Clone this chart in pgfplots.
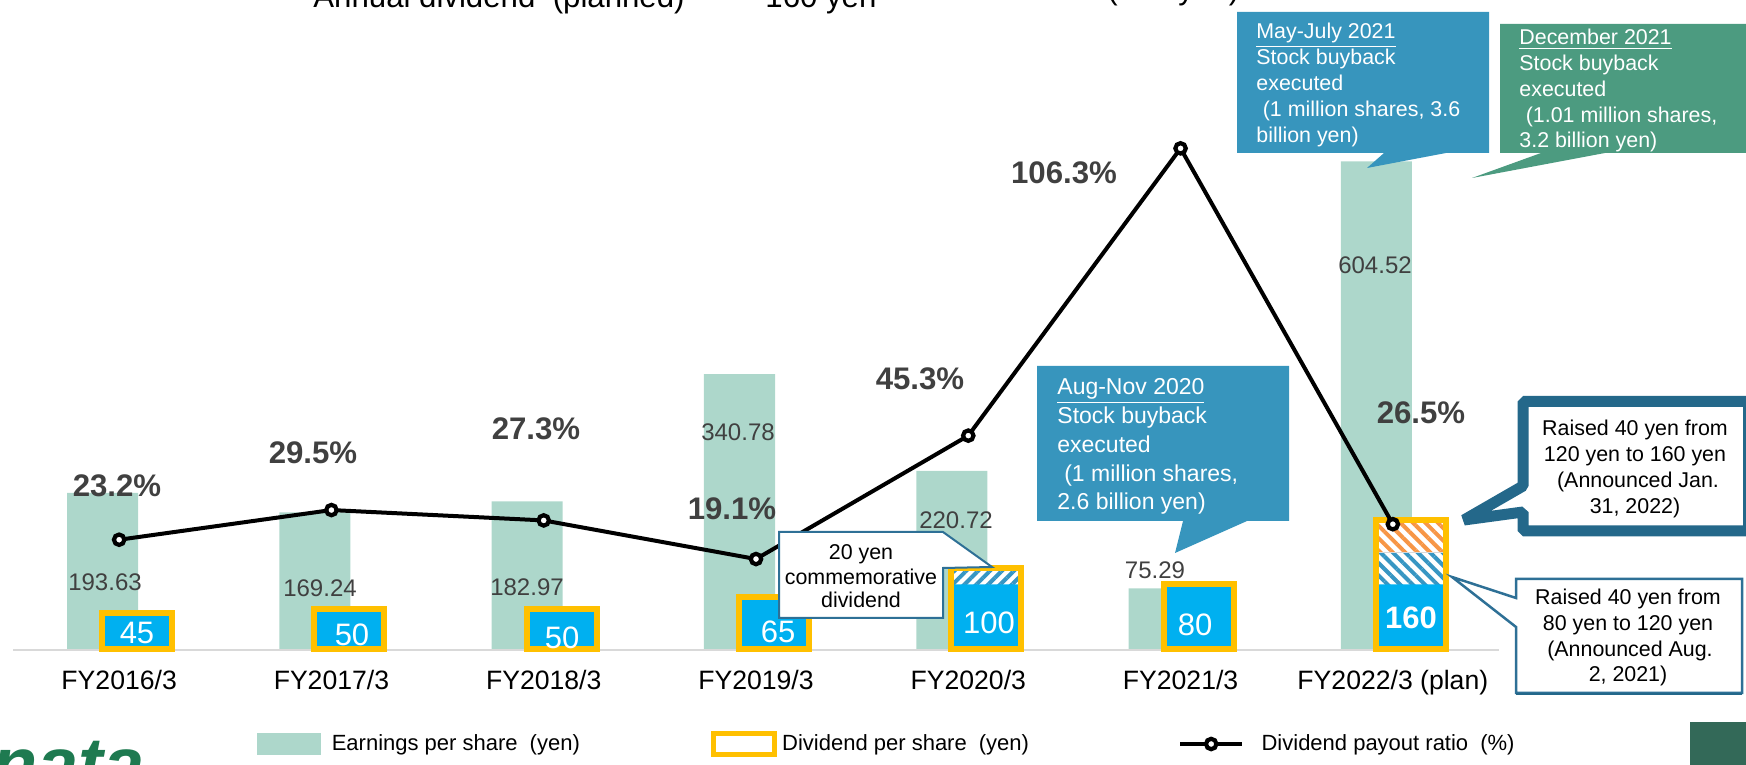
\documentclass[border=0pt]{standalone}
\usepackage{fontspec}
\setmainfont{Liberation Sans}
\usepackage{pgfplots}
\pgfplotsset{compat=1.18}
\usetikzlibrary{patterns.meta}
\definecolor{epsgreen}{RGB}{173,215,203}
\definecolor{divblue}{RGB}{0,176,240}
\definecolor{gold}{RGB}{255,192,0}
\definecolor{hatchblue}{RGB}{55,150,195}
\definecolor{hatchorange}{RGB}{247,150,70}
\definecolor{callblue}{RGB}{55,149,189}
\definecolor{callgreen}{RGB}{76,155,128}
\definecolor{darkteal}{RGB}{36,104,138}
\definecolor{thinteal}{RGB}{46,112,150}
\definecolor{txtgray}{RGB}{64,64,64}
\definecolor{logogreen}{RGB}{30,122,80}
\definecolor{darkgreen}{RGB}{51,105,88}
\definecolor{basegray}{RGB}{217,217,217}
\newcommand\fs[2]{\fontsize{#1pt}{#2pt}\selectfont}
\begin{document}
\begin{tikzpicture}
\useasboundingbox (0,0) rectangle (873pt,382.5pt);
\clip (0,0) rectangle (873pt,382.5pt);
\begin{scope}[x=0.5pt,y=-0.5pt,shift={(0pt,382.5pt)}]
  \draw[basegray, line width=1pt] (13,650.5) -- (1499,650.5);
\end{scope}
\begin{axis}[
  at={(6.5pt,58pt)}, anchor=south west, scale only axis,
  width=743pt, height=324.5pt,
  xmin=-0.5, xmax=6.5, ymin=0, ymax=804.5, clip=false,
  axis line style={draw=none}, ytick=\empty, xtick={0,...,6},
  xticklabels={FY2016/3,FY2017/3,FY2018/3,FY2019/3,FY2020/3,FY2021/3,FY2022/3 (plan)},
  major tick length=0pt,
  xticklabel style={font=\fs{13.3}{16}, anchor=base, yshift=-20.5pt, inner sep=0pt},
  legend columns=3, legend cell align=left,
  legend style={at={(0.1642,-0.1464)}, anchor=west, draw=none, fill=none,
    inner sep=0pt, outer sep=0pt, /tikz/column sep=0pt,
    nodes={inner sep=0pt, outer sep=0pt, font=\fs{11}{13}, text=black}},
]
\addlegendimage{legend image code/.code={\fill[epsgreen] (0pt,-5.25pt) rectangle (31.5pt,5.25pt); \path (37pt,0pt);}}
\addlegendentry{\makebox[189.5pt][l]{Earnings per share\hspace{0.55em}(yen)}}
\addlegendimage{legend image code/.code={\draw[gold, line width=2.5pt, fill=white] (1.25pt,-5.25pt) rectangle (31.75pt,5.25pt); \path (35.5pt,0pt);}}
\addlegendentry{\makebox[198pt][l]{Dividend per share\hspace{0.55em}(yen)}}
\addlegendimage{legend image code/.code={\draw[black, line width=2pt] (0pt,0pt) -- (31pt,0pt); \draw[black, line width=2.1pt, fill=white] (15.5pt,0pt) circle (2.6pt); \path (40.5pt,0pt);}}
\addlegendentry{\makebox[140pt][l]{Dividend payout ratio\hspace{0.55em}(\%)}}
% EPS
\addplot[ybar, bar width=35.5pt, bar shift=-8.25pt, fill=epsgreen, draw=none, forget plot]
  coordinates {(0,193.63) (1,169.24) (2,182.97) (3,340.78) (4,220.72) (5,75.29) (6,604.52)};
% hatched parts of dividend
\addplot[ybar, bar width=35pt, bar shift=9pt, fill=white, draw=none, forget plot,
  postaction={pattern={Lines[angle=-45,distance=4.4pt,line width=2pt]}, pattern color=hatchorange}]
  coordinates {(6,160)};
\addplot[ybar, bar width=35pt, bar shift=9pt, fill=white, draw=none, forget plot,
  postaction={pattern={Lines[angle=45,distance=4.2pt,line width=2pt]}, pattern color=hatchblue}]
  coordinates {(4,100)};
\addplot[ybar, bar width=35pt, bar shift=9pt, fill=white, draw=basegray, line width=0.6pt, forget plot,
  postaction={pattern={Lines[angle=-45,distance=4.4pt,line width=2pt]}, pattern color=hatchblue}]
  coordinates {(6,120)};
% solid dividend
\addplot[ybar, bar width=35pt, bar shift=9pt, fill=divblue, draw=none, forget plot]
  coordinates {(0,45) (1,50) (2,50) (3,65) (4,80) (5,80) (6,80)};
% outline
\addplot[ybar, bar width=35pt, bar shift=9pt, fill=none, draw=gold, line width=3pt, forget plot]
  coordinates {(0,45) (1,50) (2,50) (3,65) (4,100) (5,80) (6,160)};
\end{axis}
\begin{axis}[
  at={(6.5pt,58pt)}, anchor=south west, scale only axis,
  width=743pt, height=324.5pt,
  xmin=-0.5, xmax=6.5, ymin=0, ymax=137.8, clip=false, hide axis,
]
\addplot[black, line width=2pt, mark=*, mark size=2.6pt,
  mark options={fill=white, draw=black, line width=2.1pt}]
  coordinates {(0,23.2) (1,29.5) (2,27.3) (3,19.1) (4,45.3) (5,106.3) (6,26.5)};
\end{axis}
\begin{scope}[x=0.5pt,y=-0.5pt,shift={(0pt,382.5pt)}]
  % percent labels
  \begin{scope}[every node/.style={inner sep=0pt, font=\bfseries\fs{15.6}{18}, text=txtgray}]
    \node at (117,486) {23.2\%};
    \node at (313,453) {29.5\%};
    \node at (536,429) {27.3\%};
    \node at (732,509) {19.1\%};
    \node at (920,379) {45.3\%};
    \node at (1064,173) {106.3\%};
    \node at (1421,413) {26.5\%};
  \end{scope}
  % EPS labels
  \begin{scope}[every node/.style={inner sep=0pt, font=\fs{12}{14}, text=txtgray}]
    \node at (105,582) {193.63};
    \node at (320,588) {169.24};
    \node at (527,587) {182.97};
    \node at (738,432) {340.78};
    \node at (956,520) {220.72};
    \node at (1155,570) {75.29};
    \node at (1375,265) {604.52};
  \end{scope}
  % dividend labels
  \begin{scope}[every node/.style={inner sep=0pt, font=\fs{15.5}{18}, text=white}]
    \node at (137,633) {45};
    \node at (352,635) {50};
    \node at (562,638) {50};
    \node at (778,632) {65};
    \node at (989,623) {100};
    \node at (1195,625) {80};
    \node[font=\bfseries\fs{15.5}{18}] at (1411,618) {160};
  \end{scope}
  % callouts
  \fill[callblue] (1037,366) -- (1289,366) -- (1289,521) -- (1247,521) -- (1175,553) -- (1183,521) -- (1037,521) -- cycle;
  \fill[callblue] (1237,12) -- (1489,12) -- (1489,153) -- (1446,153) -- (1367,168) -- (1384,153) -- (1237,153) -- cycle;
  \fill[callgreen] (1500,24) -- (1752,24) -- (1752,153) -- (1605,153) -- (1472,178) -- (1541,153) -- (1500,153) -- cycle;
  \draw[darkteal, line width=5.5pt, fill=white, line join=bevel] (1523,401.5) -- (1748.5,401.5) -- (1748.5,531) -- (1523,531) -- (1523,512) -- (1464,520) -- (1523,486) -- cycle;
  \draw[thinteal, line width=1.25pt, fill=white] (1516,579) -- (1742,579) -- (1742,693) -- (1516,693) -- (1516,627) -- (1452,577) -- (1516,598) -- cycle;
  \draw[darkteal, line width=1pt] (1516,694.5) -- (1742,694.5);
  \draw[thinteal, line width=1pt, fill=white] (779,532) -- (943,532) -- (992,567) -- (943,568) -- (943,618) -- (779,618) -- cycle;
  \begin{scope}[every node/.style={inner sep=0pt, anchor=base west, font=\fs{11.5}{14}, text=white}]
    \node at (1057,395) {\underline{Aug-Nov 2020}};
    \node at (1057,424) {Stock buyback};
    \node at (1057,453) {executed};
    \node at (1057,482) {\hspace*{0.3em}(1 million shares,};
    \node at (1057,510) {2.6 billion yen)};
  \end{scope}
  \begin{scope}[every node/.style={inner sep=0pt, anchor=base west, font=\fs{10.7}{13}, text=white}]
    \node at (1256,39) {\underline{May-July 2021}};
    \node at (1256,65) {Stock buyback};
    \node at (1256,91) {executed};
    \node at (1256,117) {\hspace*{0.3em}(1 million shares, 3.6};
    \node at (1256,143) {billion yen)};
    \node at (1519,45) {\underline{December 2021}};
    \node at (1519,71) {Stock buyback};
    \node at (1519,97) {executed};
    \node at (1519,123) {\hspace*{0.3em}(1.01 million shares,};
    \node at (1519,148) {3.2 billion yen)};
  \end{scope}
  \begin{scope}[every node/.style={inner sep=0pt, anchor=base, font=\fs{10.7}{13}, text=black}]
    \node at (1635,436) {Raised 40 yen from};
    \node at (1635,462) {120 yen to 160 yen};
    \node at (1638,488) {(Announced Jan.};
    \node at (1635,514) {31, 2022)};
    \node at (1628,605) {Raised 40 yen from};
    \node at (1628,631) {80 yen to 120 yen};
    \node at (1630,657) {(Announced Aug.};
    \node at (1628,682) {2, 2021)};
    \node at (861,560) {20 yen};
    \node at (861,585) {commemorative};
    \node at (861,608) {dividend};
  \end{scope}
  % cut-off title and decorations
  \begin{scope}[every node/.style={inner sep=0pt, anchor=base west, font=\fs{15.6}{18}, text=black}]
    \node at (313,8) {Annual dividend\hspace{0.28em} (planned)};
    \node at (765,8) {160 yen};
    \node at (1107,0) {(120 yen)};
  \end{scope}
  \node[inner sep=0pt, anchor=base west, font=\bfseries\itshape\fs{37}{40}, text=logogreen] at (-8,790) {nata};
  \fill[darkgreen] (1690,722) rectangle (1752,770);
\end{scope}
\end{tikzpicture}
\end{document}
